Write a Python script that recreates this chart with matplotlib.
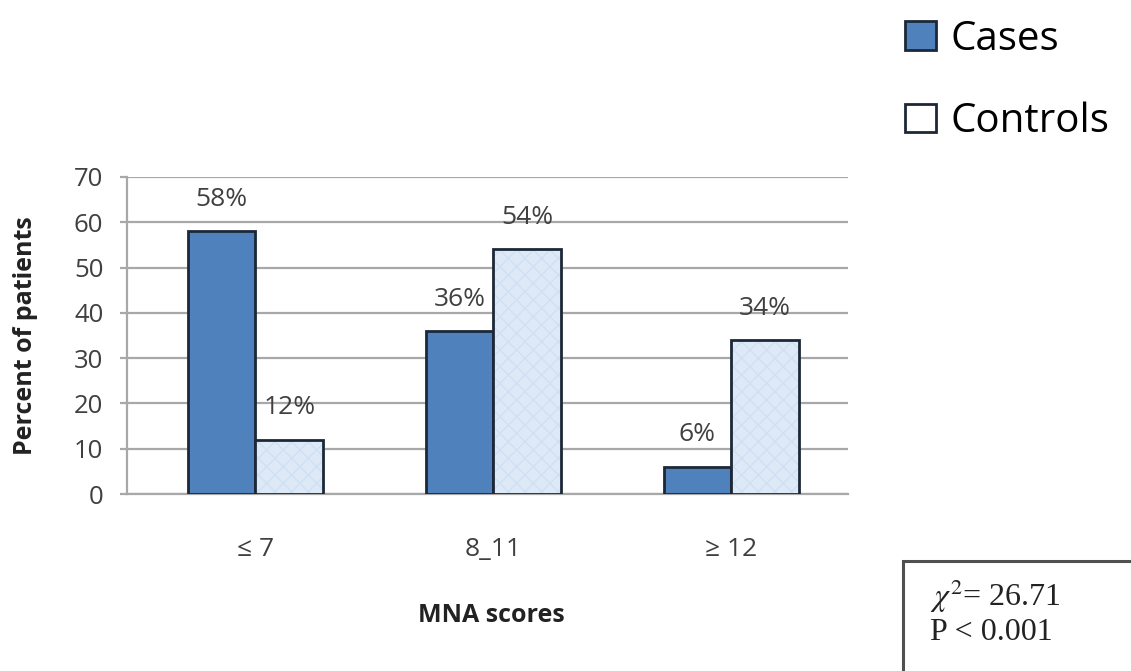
import matplotlib.pyplot as plt
from matplotlib.patches import Rectangle
import numpy as np

# data
categories = ["≤ 7", "8_11", "≥ 12"]
cases = [58, 36, 6]
controls = [12, 54, 34]
series_names = ["Cases", "Controls"]

W, H = 1131, 671
plt.rcParams['font.family'] = ['Open Sans', 'DejaVu Sans']
plt.rcParams['mathtext.fontset'] = 'stix'

fig = plt.figure(figsize=(W / 100, H / 100), dpi=100)
ax = fig.add_axes([127 / W, 1 - 494 / H, (848 - 127) / W, (494 - 177) / H])

x = np.arange(len(categories))
bw = 0.285
dark = '#1c2838'

b1 = ax.bar(x - bw / 2, cases, bw, color='#4F81BD', edgecolor=dark, linewidth=2, zorder=3)
# light bars with a faint texture, then a dark outline on top
ax.bar(x + bw / 2, controls, bw, color='#dde9f7', edgecolor='#d0e0f3', hatch='xx',
       linewidth=0, zorder=3)
b2 = ax.bar(x + bw / 2, controls, bw, facecolor='none', edgecolor=dark, linewidth=2, zorder=4)

for bars, vals in ((b1, cases), (b2, controls)):
    for r, v in zip(bars, vals):
        ax.annotate(f"{v}%", (r.get_x() + r.get_width() / 2, v), xytext=(0, 23),
                    textcoords='offset points', ha='center', va='center',
                    fontsize=19, color='#404040', zorder=5)

ax.set_xlim(-0.54, 2.49)
ax.set_ylim(0, 70)
ax.set_yticks(range(0, 71, 10))
ax.set_xticks(x)
ax.set_xticklabels(categories)
ax.yaxis.grid(True, color='#a8a8a8', linewidth=1.6, zorder=0)
ax.set_axisbelow(True)
for s in ('top', 'right'):
    ax.spines[s].set_visible(False)
for s in ('left', 'bottom'):
    ax.spines[s].set_color('#a8a8a8')
    ax.spines[s].set_linewidth(1.6)
ax.tick_params(axis='y', length=5, width=1.6, color='#a8a8a8', labelsize=18.5,
               labelcolor='#404040', pad=12)
ax.tick_params(axis='x', length=0, labelsize=19, labelcolor='#404040', pad=31)

ax.set_ylabel("Percent of patients", fontsize=18, fontweight='bold', color='#222222')
ax.yaxis.set_label_coords((26 - 127) / 721, 0.5)
ax.yaxis.label.set_va('center')
ax.set_xlabel("MNA scores", fontsize=18, fontweight='bold', color='#222222')
ax.xaxis.set_label_coords((491 - 127) / 721, (494 - 616) / 317)
ax.xaxis.label.set_va('center')

fig.legend([b1, b2], series_names, loc='upper left', bbox_to_anchor=(905 / W, 1 - 19 / H),
           frameon=False, fontsize=29, handlelength=0.78, handleheight=0.7,
           handletextpad=0.35, labelspacing=1.05, borderpad=0, borderaxespad=0)

fig.patches.append(Rectangle((903 / W, -0.1), 0.3, 0.1 + (H - 561) / H,
                             transform=fig.transFigure, facecolor='white',
                             edgecolor='#505050', linewidth=2.2))
fig.text(930 / W, 1 - 596 / H, r"$\chi^2$= 26.71", family=['Liberation Serif'],
         fontsize=23, va='center', ha='left', color='#222222')
fig.text(930 / W, 1 - 632 / H, "P < 0.001", family=['Liberation Serif'],
         fontsize=23, va='center', ha='left', color='#222222')

fig.savefig("out.png", dpi=100)
